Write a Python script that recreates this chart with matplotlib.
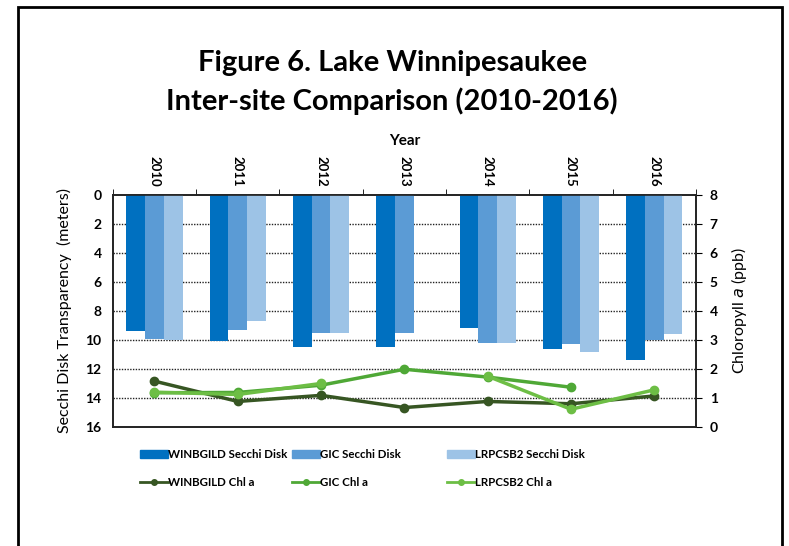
import numpy as np
import matplotlib.pyplot as plt
from matplotlib.patches import Rectangle, Patch
from matplotlib.lines import Line2D

plt.rcParams['font.family'] = ['Lato', 'DejaVu Sans']

# DATA
years = ['2010', '2011', '2012', '2013', '2014', '2015', '2016']
secchi_winbgild = [9.4, 10.1, 10.5, 10.5, 9.2, 10.6, 11.4]
secchi_gic      = [9.9, 9.3, 9.5, 9.5, 10.2, 10.3, 10.0]
secchi_lrpcsb2  = [10.0, 8.7, 9.5, np.nan, 10.2, 10.8, 9.6]
chl_winbgild = [1.58, 0.88, 1.09, 0.67, 0.88, 0.80, 1.07]
chl_gic      = [1.18, 1.19, 1.44, 1.99, 1.72, 1.37, np.nan]
chl_lrpcsb2  = [1.20, 1.12, 1.50, np.nan, 1.75, 0.61, 1.28]

bar_colors  = ['#0070C0', '#5B9BD5', '#9DC3E6']
line_colors = ['#375623', '#4FA836', '#6DBE45']

fig = plt.figure(figsize=(7.89, 5.46), dpi=100)
ax = fig.add_axes([0.143, 0.218, 0.739, 0.425])
ax2 = ax.twinx()

x = np.arange(len(years))
w = 0.225
for off, vals, c in zip([-w, 0, w], [secchi_winbgild, secchi_gic, secchi_lrpcsb2], bar_colors):
  ax.bar(x + off, vals, width=w, color=c, zorder=3)

ax.set_ylim(16, 0)
ax.set_yticks(range(0, 17, 2))
ax.set_xlim(-0.5, len(years) - 0.5)
ax.xaxis.tick_top()
ax.set_xticks(x)
ax.set_xticklabels(years, rotation=270, fontweight='bold', fontsize=9.5)
ax.tick_params(axis='x', which='major', length=0, pad=6)
ax.set_xticks(np.arange(-0.5, len(years)), minor=True)
ax.tick_params(axis='x', which='minor', length=4, top=True, bottom=False)
ax.xaxis.set_label_position('top')
ax.set_xlabel('Year', fontweight='bold', fontsize=11, labelpad=8)
ax.tick_params(axis='y', length=0, pad=8)
for lab in ax.get_yticklabels():
  lab.set_fontweight('bold')
  lab.set_fontsize(10)
ax.set_ylabel('Secchi Disk Transparency  (meters)', fontsize=11.5, labelpad=10)
for yv in range(2, 16, 2):
  ax.axhline(yv, color='#222222', linestyle=(0, (1, 1)), linewidth=1, zorder=1)

for vals, c in zip([chl_winbgild, chl_gic, chl_lrpcsb2], line_colors):
  ax2.plot(x, vals, color=c, marker='o', markersize=6, linewidth=2.5, zorder=4)
ax2.set_ylim(0, 8)
ax2.set_yticks(range(0, 9))
ax2.tick_params(axis='y', length=4, direction='out', pad=6)
for lab in ax2.get_yticklabels():
  lab.set_fontweight('bold')
  lab.set_fontsize(10)
ax2.set_ylabel(r'Chloropyll $\mathit{a}$ (ppb)', fontsize=11.5, labelpad=8)

for a in (ax, ax2):
  for s in a.spines.values():
    s.set_linewidth(1.2)
    s.set_color('#222222')

# TITLE
fig.text(0.497, 0.885, 'Figure 6. Lake Winnipesaukee', ha='center', va='center',
         fontsize=21, fontweight='bold')
fig.text(0.497, 0.815, 'Inter-site Comparison (2010-2016)', ha='center', va='center',
         fontsize=21, fontweight='bold')

# LEGENDS (three columns of two rows)
names = ['WINBGILD', 'GIC', 'LRPCSB2']
xpos = [140/789, 292/789, 447/789]
for i in range(3):
  hs = [Patch(color=bar_colors[i]),
        Line2D([], [], color=line_colors[i], marker='o', markersize=4, linewidth=2)]
  labs = [f'{names[i]} Secchi Disk', f'{names[i]} Chl a']
  leg = fig.legend(hs, labs, loc='upper left', bbox_to_anchor=(xpos[i], 0.178),
                   frameon=False, handlelength=2.4, handletextpad=0.05,
                   labelspacing=1.5, prop={'size': 8.3, 'weight': 'bold'},
                   borderaxespad=0, borderpad=0)
  leg.set_zorder(10 - i)

# BORDER
fig.add_artist(Rectangle((18/789, -0.05), 764/789, 1.05 - 7/546, transform=fig.transFigure,
                         fill=False, edgecolor='black', linewidth=2))

plt.savefig('out.png', dpi=100)
